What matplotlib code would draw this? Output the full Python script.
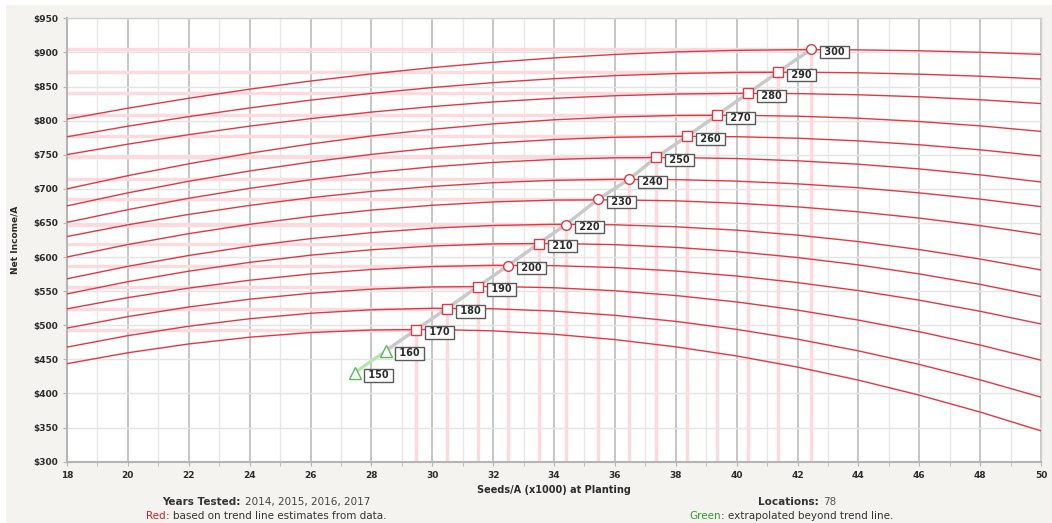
import numpy as np
import matplotlib
matplotlib.use('Agg')
import matplotlib.pyplot as plt
from matplotlib.patches import Rectangle

# seeding rates (x1000 seeds/A) where each curve was read
seed_rates = [18, 20, 22, 24, 26, 28, 30, 32, 34, 36, 38, 40, 42, 44, 46, 48, 50]

# net income curves by yield level (bu/A)
curves = {
    170: [443.7, 459.7, 472.6, 482.5, 489.3, 493.1, 493.9, 491.8, 486.8, 479.0, 468.4, 455.0, 438.7, 419.6, 397.6, 372.8, 345.2],
    180: [468.0, 484.8, 498.6, 509.6, 517.6, 522.7, 524.9, 524.2, 520.8, 514.6, 505.7, 494.0, 479.6, 462.5, 442.6, 420.0, 394.6],
    190: [495.9, 512.7, 526.8, 538.2, 546.9, 552.9, 556.2, 556.9, 555.0, 550.6, 543.6, 534.2, 522.2, 507.6, 490.6, 471.0, 448.8],
    200: [524.1, 540.5, 554.5, 566.0, 575.2, 581.8, 586.1, 587.9, 587.4, 584.6, 579.5, 572.2, 562.6, 550.8, 536.8, 520.5, 501.9],
    210: [546.0, 563.9, 579.3, 592.2, 602.7, 610.7, 616.2, 619.3, 619.9, 618.2, 614.2, 607.9, 599.3, 588.5, 575.3, 559.9, 542.1],
    220: [568.1, 586.4, 602.3, 615.9, 627.0, 635.8, 642.3, 646.3, 648.0, 647.3, 644.4, 639.4, 632.1, 622.7, 611.0, 597.1, 581.1],
    230: [600.1, 618.3, 634.3, 648.0, 659.5, 668.8, 675.9, 680.8, 683.5, 683.9, 682.4, 678.9, 673.6, 666.3, 657.1, 646.1, 633.1],
    240: [630.1, 647.3, 662.5, 675.7, 687.0, 696.3, 703.6, 709.0, 712.5, 713.9, 713.5, 711.3, 707.3, 701.6, 694.1, 684.9, 673.9],
    250: [650.9, 669.5, 686.2, 700.7, 713.3, 723.8, 732.3, 738.7, 743.1, 745.5, 745.9, 744.4, 741.1, 736.1, 729.2, 720.5, 710.0],
    260: [675.0, 694.1, 711.1, 726.2, 739.3, 750.5, 759.7, 767.0, 772.3, 775.6, 777.0, 776.4, 774.2, 770.3, 764.6, 757.2, 748.1],
    270: [700.0, 719.3, 736.7, 752.2, 765.8, 777.5, 787.3, 795.2, 801.2, 805.3, 807.6, 807.9, 806.5, 803.5, 798.7, 792.3, 784.2],
    280: [750.2, 765.5, 779.4, 791.9, 802.9, 812.5, 820.6, 827.4, 832.7, 836.5, 839.0, 840.0, 839.6, 837.9, 834.9, 830.6, 825.0],
    290: [776.3, 791.8, 805.9, 818.6, 830.0, 839.9, 848.5, 855.7, 861.5, 866.0, 869.0, 870.7, 871.0, 870.1, 868.1, 865.1, 861.0],
    300: [802.2, 818.2, 832.8, 846.1, 858.0, 868.5, 877.7, 885.5, 891.9, 897.0, 900.7, 903.0, 904.0, 903.7, 902.4, 900.2, 897.1],
}

# optimum points
yield_levels = [150, 160, 170, 180, 190, 200, 210, 220, 230, 240, 250, 260, 270, 280, 290, 300]
opt_seed = [27.46, 28.48, 29.47, 30.48, 31.50, 32.49, 33.50, 34.39, 35.44, 36.46, 37.35, 38.37, 39.35, 40.37, 41.36, 42.44]
opt_income = [430.6, 462.8, 493.7, 524.5, 556.7, 587.6, 619.8, 647.7, 684.4, 713.8, 746.0, 777.0, 807.7, 840.0, 871.0, 904.5]
opt_shape = ['^', '^', 's', 's', 's', 'o', 's', 'o', 'o', 'o', 's', 's', 's', 's', 's', 'o']
extrapolated = [True, True] + [False] * 14

x_ticks = [18, 20, 22, 24, 26, 28, 30, 32, 34, 36, 38, 40, 42, 44, 46, 48, 50]
y_ticks = [300, 350, 400, 450, 500, 550, 600, 650, 700, 750, 800, 850, 900, 950]
y_tick_labels = ['$300', '$350', '$400', '$450', '$500', '$550', '$600', '$650',
                 '$700', '$750', '$800', '$850', '$900', '$950']

red = '#e23844'
pink = '#fcdade'
green = '#5cb85c'
text_c = '#2b2b2b'

W, H = 1052, 523
fig = plt.figure(figsize=(W / 100, H / 100), dpi=100)
fig.patch.set_facecolor('white')
fig.patches.append(Rectangle((6 / W, 0), 1, 1 - 5 / H, transform=fig.transFigure,
                             facecolor='#f4f3ef', edgecolor='none', zorder=-10))

ax = fig.add_axes([67 / W, 1 - 461.7 / H, (1041 - 67) / W, (461.7 - 18.3) / H])
ax.set_facecolor('white')
ax.set_xlim(18, 50)
ax.set_ylim(300, 950)

ax.set_xticks(x_ticks)
ax.set_xticks(range(19, 50, 2), minor=True)
ax.set_yticks(y_ticks)
ax.set_yticklabels(y_tick_labels)
ax.grid(which='major', axis='x', color='#c2c2c2', lw=1.3, zorder=0)
ax.grid(which='minor', axis='x', color='#e7e7e7', lw=1, zorder=0)
ax.grid(which='major', axis='y', color='#e4e4e4', lw=1, zorder=0)
ax.set_axisbelow(True)
ax.tick_params(which='both', length=3, color='#b5b5b5', labelsize=6.5, labelcolor=text_c)
ax.tick_params(axis='x', pad=4)
for lab in ax.get_xticklabels() + ax.get_yticklabels():
    lab.set_fontweight('bold')
for side in ['left', 'bottom']:
    ax.spines[side].set_color('#b5b5b5')
    ax.spines[side].set_linewidth(1.5)
for side in ['top', 'right']:
    ax.spines[side].set_color('#d2d2d2')
    ax.spines[side].set_linewidth(1)

# drop lines to the axes for the data-based points
for xm, ym, ext in zip(opt_seed, opt_income, extrapolated):
    if ext:
        continue
    ax.plot([18, xm], [ym, ym], color=pink, lw=2.5, zorder=1, solid_capstyle='butt')
    ax.plot([xm, xm], [300, ym], color=pink, lw=2.5, zorder=1, solid_capstyle='butt')

for lvl, vals in curves.items():
    ax.plot(seed_rates, vals, color=red, lw=1, zorder=3)

# optimum trend line
ax.plot(opt_seed[:2], opt_income[:2], color='#b2e6aa', lw=2.2, zorder=4, solid_capstyle='butt')
ax.plot(opt_seed[1:], opt_income[1:], color='#c9c9c9', lw=2.5, zorder=4, solid_capstyle='butt')

for lvl, xm, ym, shp, ext in zip(yield_levels, opt_seed, opt_income, opt_shape, extrapolated):
    ec = green if ext else red
    ms = 9 if shp == '^' else 7
    ax.plot(xm, ym, marker=shp, ms=ms, mfc='white', mec=ec, mew=1, zorder=5, clip_on=False)
    ax.annotate(f' {lvl} ', (xm, ym), xytext=(17, -2), textcoords='offset points',
                ha='center', va='center', fontsize=7, fontweight='bold', color=text_c,
                bbox=dict(boxstyle='square,pad=0.12', fc='white', ec='#5a5a5a', lw=1),
                zorder=6, annotation_clip=False)

ax.set_xlabel('Seeds/A (x1000) at Planting', fontsize=7, fontweight='bold', color=text_c, labelpad=3)
ax.set_ylabel('Net Income/A', fontsize=6.5, fontweight='bold', color=text_c, labelpad=10)

# footer notes
def px(x, y):
    return x / W, 1 - y / H

fig.text(*px(241, 502), 'Years Tested:', ha='right', va='center', fontsize=7.5,
         fontweight='bold', color='#333333')
fig.text(*px(245, 502), '2014, 2015, 2016, 2017', ha='left', va='center', fontsize=7.5, color='#444444')
fig.text(*px(819, 502), 'Locations:', ha='right', va='center', fontsize=7.5,
         fontweight='bold', color='#333333')
fig.text(*px(823, 502), '78', ha='left', va='center', fontsize=7.5, color='#555555')
fig.text(*px(166, 516), 'Red', ha='right', va='center', fontsize=7.5, color='#d0202a')
fig.text(*px(166, 516), ': based on trend line estimates from data.', ha='left', va='center',
         fontsize=7.5, color='#333333')
fig.text(*px(721, 516), 'Green', ha='right', va='center', fontsize=7.5, color='#2e9e2e')
fig.text(*px(721, 516), ': extrapolated beyond trend line.', ha='left', va='center',
         fontsize=7.5, color='#333333')

fig.savefig('out.png', dpi=100, facecolor=fig.get_facecolor())
